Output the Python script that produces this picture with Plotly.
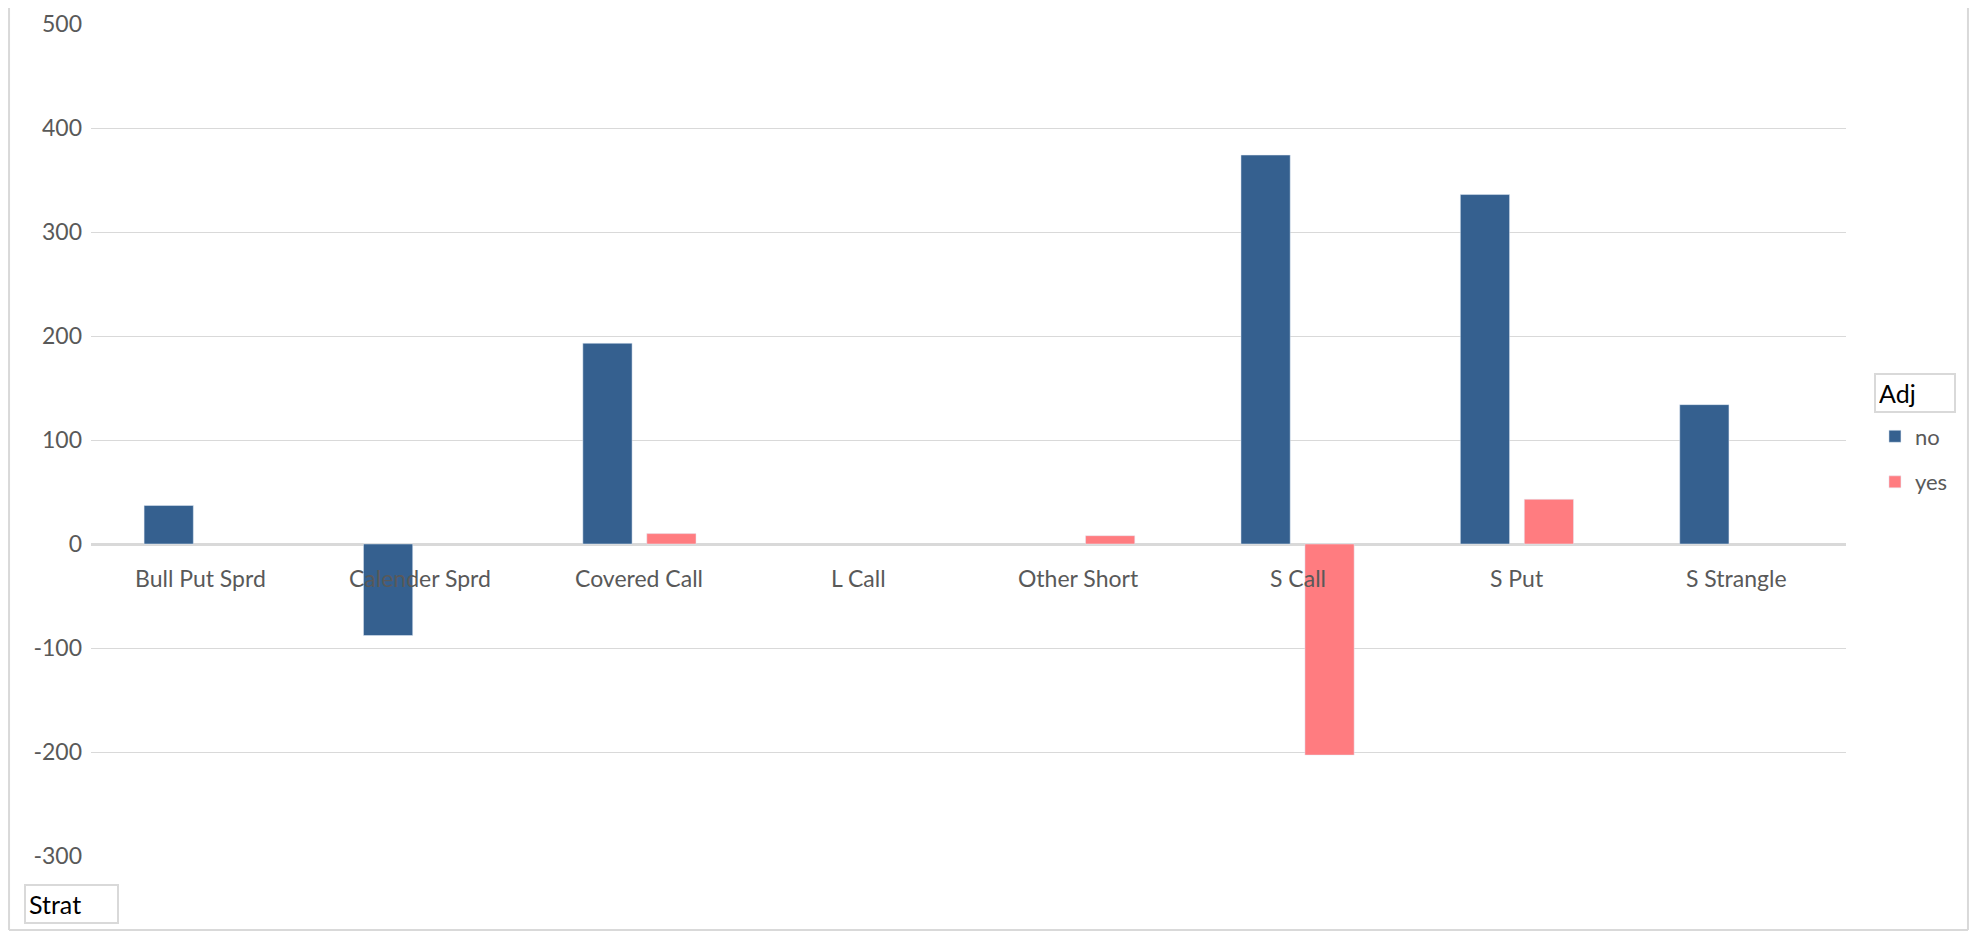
import plotly.graph_objects as go

categories = ["Bull Put Sprd", "Calender Sprd", "Covered Call", "L Call",
              "Other Short", "S Call", "S Put", "S Strangle"]
no_values = [37, -88, 193, None, None, 374, 336, 134]
yes_values = [None, None, 10, None, 8, -203, 43, None]
y_ticks = [-300, -200, -100, 0, 100, 200, 300, 400, 500]
y_tick_labels = ["-300", "-200", "-100", "0", "100", "200", "300", "400", "500"]

FONT = "Lato"
GRAY = "#595959"
GRID = "#d9d9d9"

fig = go.Figure()
fig.add_trace(go.Bar(x=categories, y=no_values, name="no", marker_color="#35608F",
                     legendgroup="no"))
fig.add_trace(go.Bar(x=categories, y=yes_values, name="yes", marker_color="#FF7C80",
                     legendgroup="yes"))

annotations = []
for c in categories:
    annotations.append(dict(x=c, y=0, xref="x", yref="y", text=c, showarrow=False,
                            yanchor="middle", yshift=-34,
                            font=dict(family=FONT, size=23, color=GRAY)))
annotations.append(dict(x=1.0160, y=0.5559, xref="paper", yref="paper", text="Adj",
                        showarrow=False, xanchor="left", yanchor="middle", align="left",
                        width=72, bordercolor=GRID, borderwidth=2, borderpad=3,
                        font=dict(family=FONT, size=25, color="black")))
annotations.append(dict(x=-0.0382, y=-0.0571, xref="paper", yref="paper", text="Strat",
                        showarrow=False, xanchor="left", yanchor="middle", align="left",
                        width=85, bordercolor=GRID, borderwidth=2, borderpad=3,
                        font=dict(family=FONT, size=25, color="black")))

border = dict(color=GRID, width=2)
fig.update_layout(
    barmode="group",
    bargap=0.417,
    bargroupgap=0.23,
    plot_bgcolor="white",
    paper_bgcolor="white",
    margin=dict(l=83, r=123, t=16, b=75, autoexpand=False),
    font=dict(family=FONT, color=GRAY),
    showlegend=True,
    legend=dict(x=1.0165, y=0.4766, xanchor="left", yanchor="middle",
                font=dict(family=FONT, size=22, color=GRAY),
                tracegroupgap=14, bgcolor="rgba(0,0,0,0)"),
    annotations=annotations,
    shapes=[
        dict(type="line", xref="paper", yref="paper", x0=-0.0467, x1=-0.0467,
             y0=-0.0889, y1=1.03, line=border, layer="below"),
        dict(type="line", xref="paper", yref="paper", x0=1.0695, x1=1.0695,
             y0=-0.0889, y1=1.03, line=border, layer="below"),
        dict(type="line", xref="paper", yref="paper", x0=-0.0467, x1=1.0695,
             y0=-0.0889, y1=-0.0889, line=border, layer="below"),
    ],
)
fig.update_xaxes(showticklabels=False, showgrid=False, showline=False, ticks="",
                 automargin=False)
fig.update_yaxes(range=[-300, 500], tickvals=y_ticks, ticktext=y_tick_labels,
                 showgrid=True, gridcolor=GRID, automargin=False,
                 gridwidth=1, zeroline=True, zerolinecolor=GRID, zerolinewidth=2.5,
                 showline=False, ticks="", ticklabelstandoff=8,
                 tickfont=dict(family=FONT, size=23, color=GRAY))

fig.write_html("out.html")
